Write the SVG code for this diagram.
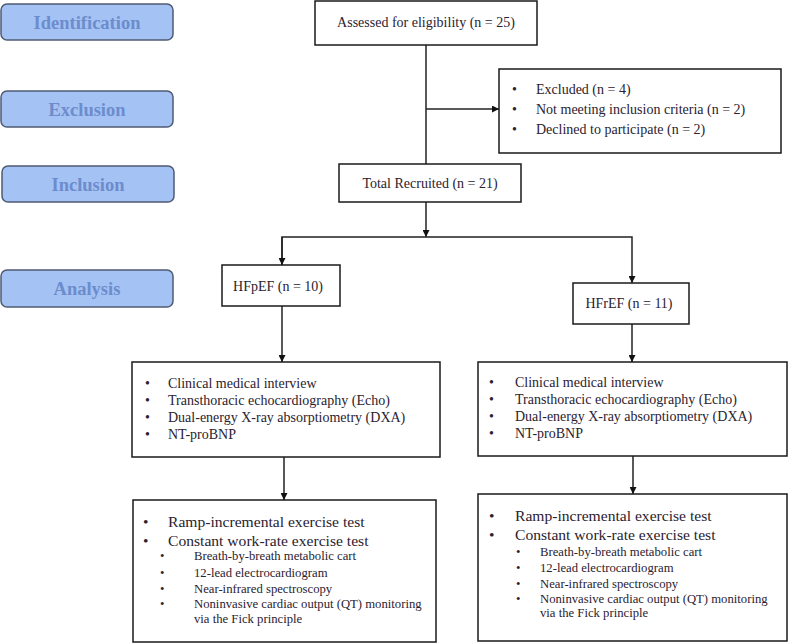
<svg xmlns="http://www.w3.org/2000/svg" width="788" height="643" viewBox="0 0 788 643">
<defs>
<marker id="ah" viewBox="0 0 10 10" refX="10" refY="5" markerWidth="7" markerHeight="7" markerUnits="userSpaceOnUse" orient="auto">
<path d="M0,0 L10,5 L0,10 z" fill="#111"/>
</marker>
</defs>
<style>
.stage rect{fill:#a4c2f4;stroke:#4f5b73;stroke-width:1.5}
.stage text{font-family:"Liberation Serif","Times New Roman",serif;font-weight:bold;font-size:18.5px;fill:#6c8ccc;text-anchor:middle}
.box{fill:#fff;stroke:#1a1a1a;stroke-width:1.5}
.t{font-family:"Liberation Serif","Times New Roman",serif;font-size:14px;fill:#2a2230}
.tb{font-family:"Liberation Serif","Times New Roman",serif;font-size:15.6px;fill:#2a2230}
.ts{font-family:"Liberation Serif","Times New Roman",serif;font-size:12.7px;fill:#2a2230}
.c{text-anchor:middle}
.conn path{fill:none;stroke:#222;stroke-width:1.5}
</style>
<g id="stage-identification" class="stage"><rect x="1" y="4" width="172" height="36" rx="6"/><text x="87" y="29">Identification</text></g>
<g id="stage-exclusion" class="stage"><rect x="1" y="91" width="172" height="36" rx="6"/><text x="87" y="116">Exclusion</text></g>
<g id="stage-inclusion" class="stage"><rect x="2" y="166" width="172" height="36" rx="6"/><text x="88" y="191">Inclusion</text></g>
<g id="stage-analysis" class="stage"><rect x="1" y="270" width="172" height="37" rx="6"/><text x="87" y="295">Analysis</text></g>

<g id="connectors" class="conn">
<path d="M426,45 V165"/>
<path d="M426,109 H499" marker-end="url(#ah)"/>
<path d="M426,202 V237" marker-end="url(#ah)"/>
<path d="M282,265 V237 H632 V283" marker-end="url(#ah)"/>
<path d="M282,237 V265" marker-end="url(#ah)"/>
<path d="M282,306 V362" marker-end="url(#ah)"/>
<path d="M632,324 V362" marker-end="url(#ah)"/>
<path d="M284,457 V500" marker-end="url(#ah)"/>
<path d="M633,456 V494" marker-end="url(#ah)"/>
</g>

<g id="assessed"><rect class="box" x="315" y="1" width="222" height="44"/><text class="t c" x="426" y="27">Assessed for eligibility (n = 25)</text></g>

<g id="excluded"><rect class="box" x="499" y="69" width="282" height="84"/>
<text class="t" x="512" y="94">•</text><text class="t" x="536" y="94">Excluded  (n = 4)</text>
<text class="t" x="512" y="114">•</text><text class="t" x="536" y="114">Not meeting inclusion criteria (n = 2)</text>
<text class="t" x="512" y="134">•</text><text class="t" x="536" y="134">Declined to participate (n = 2)</text>
</g>

<g id="recruited"><rect class="box" x="339" y="164" width="182" height="38"/><text class="t c" x="430" y="188">Total Recruited (n = 21)</text></g>

<g id="hfpef"><rect class="box" x="222" y="265" width="118" height="41"/><text class="t c" x="278" y="291">HFpEF (n = 10)</text></g>
<g id="hfref"><rect class="box" x="573" y="283" width="116" height="41"/><text class="t c" x="629" y="308">HFrEF (n = 11)</text></g>

<g id="assess-left"><rect class="box" x="132" y="362" width="308" height="95"/>
<text class="t" x="145" y="388">•</text><text class="t" x="168" y="388">Clinical medical interview</text>
<text class="t" x="145" y="405">•</text><text class="t" x="168" y="405">Transthoracic echocardiography (Echo)</text>
<text class="t" x="145" y="422">•</text><text class="t" x="168" y="422">Dual-energy X-ray absorptiometry (DXA)</text>
<text class="t" x="145" y="439">•</text><text class="t" x="168" y="439">NT-proBNP</text>
</g>

<g id="assess-right"><rect class="box" x="478" y="362" width="309" height="94"/>
<text class="t" x="489" y="387">•</text><text class="t" x="515" y="387">Clinical medical interview</text>
<text class="t" x="489" y="404">•</text><text class="t" x="515" y="404">Transthoracic echocardiography (Echo)</text>
<text class="t" x="489" y="421">•</text><text class="t" x="515" y="421">Dual-energy X-ray absorptiometry (DXA)</text>
<text class="t" x="489" y="438">•</text><text class="t" x="515" y="438">NT-proBNP</text>
</g>

<g id="exercise-left"><rect class="box" x="133" y="500" width="303" height="142"/>
<text class="tb" x="143" y="527">•</text><text class="tb" x="168" y="527">Ramp-incremental exercise test</text>
<text class="tb" x="143" y="546">•</text><text class="tb" x="168" y="546">Constant work-rate exercise test</text>
<text class="ts" x="160" y="560">•</text><text class="ts" x="194" y="560">Breath-by-breath metabolic cart</text>
<text class="ts" x="160" y="577">•</text><text class="ts" x="194" y="577">12-lead electrocardiogram</text>
<text class="ts" x="160" y="593">•</text><text class="ts" x="194" y="593">Near-infrared spectroscopy</text>
<text class="ts" x="160" y="608">•</text><text class="ts" x="194" y="608">Noninvasive cardiac output (QT) monitoring</text>
<text class="ts" x="194" y="623">via the Fick principle</text>
</g>

<g id="exercise-right"><rect class="box" x="478" y="494" width="309" height="147"/>
<text class="tb" x="489" y="521">•</text><text class="tb" x="515" y="521">Ramp-incremental exercise test</text>
<text class="tb" x="489" y="540">•</text><text class="tb" x="515" y="540">Constant work-rate exercise test</text>
<text class="ts" x="516" y="556">•</text><text class="ts" x="540" y="556">Breath-by-breath metabolic cart</text>
<text class="ts" x="516" y="572">•</text><text class="ts" x="540" y="572">12-lead electrocardiogram</text>
<text class="ts" x="516" y="588">•</text><text class="ts" x="540" y="588">Near-infrared spectroscopy</text>
<text class="ts" x="516" y="603">•</text><text class="ts" x="540" y="603">Noninvasive cardiac output (QT) monitoring</text>
<text class="ts" x="540" y="617">via the Fick principle</text>
</g>
</svg>
